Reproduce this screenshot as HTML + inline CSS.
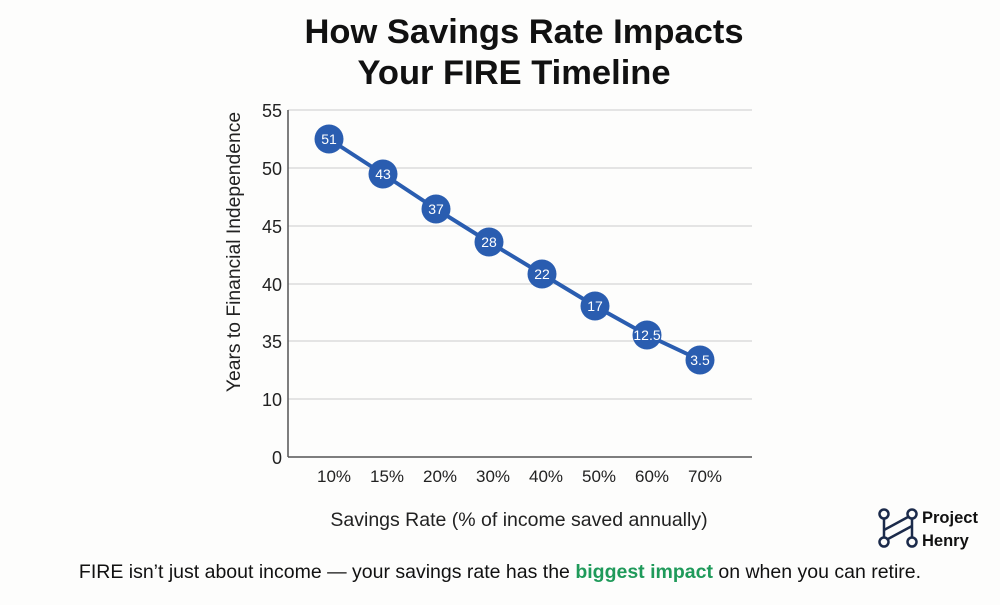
<!DOCTYPE html>
<html><head><style>
body{margin:0;width:1000px;height:600px;background:#fdfdfc;font-family:"Liberation Sans",sans-serif;overflow:hidden}
</style></head><body>
<svg width="1000" height="600" viewBox="0 0 1000 600" xmlns="http://www.w3.org/2000/svg" font-family="Liberation Sans, sans-serif">
<text x="524" y="43" text-anchor="middle" font-size="34.5" font-weight="bold" fill="#111">How Savings Rate Impacts</text>
<text x="514" y="84" text-anchor="middle" font-size="34.5" font-weight="bold" fill="#111">Your FIRE Timeline</text>
<g stroke="#dcdcdc" stroke-width="1.5">
<line x1="288" y1="110" x2="752" y2="110"/><line x1="288" y1="168" x2="752" y2="168"/>
<line x1="288" y1="226" x2="752" y2="226"/><line x1="288" y1="284" x2="752" y2="284"/>
<line x1="288" y1="341" x2="752" y2="341"/><line x1="288" y1="399" x2="752" y2="399"/>
</g>
<line x1="288" y1="110" x2="288" y2="457" stroke="#555" stroke-width="1.5"/>
<line x1="288" y1="457" x2="752" y2="457" stroke="#555" stroke-width="1.5"/>
<g font-size="18" fill="#222" text-anchor="end">
<text x="282" y="117">55</text><text x="282" y="175">50</text><text x="282" y="233">45</text>
<text x="282" y="291">40</text><text x="282" y="348">35</text><text x="282" y="406">10</text><text x="282" y="464">0</text>
</g>
<g font-size="17" fill="#222" text-anchor="middle">
<text x="334" y="482">10%</text><text x="387" y="482">15%</text><text x="440" y="482">20%</text><text x="493" y="482">30%</text>
<text x="546" y="482">40%</text><text x="599" y="482">50%</text><text x="652" y="482">60%</text><text x="705" y="482">70%</text>
</g>
<text transform="translate(240,252) rotate(-90)" text-anchor="middle" font-size="19.3" fill="#222">Years to Financial Independence</text>
<text x="519" y="526" text-anchor="middle" font-size="19.5" fill="#222">Savings Rate (% of income saved annually)</text>
<polyline points="329,139 383,174 436,209 489,242 542,274 595,306 647,335 700,360" fill="none" stroke="#2a5db0" stroke-width="4"/>
<g fill="#2a5db0"><circle cx="329" cy="139" r="14.5"/><circle cx="383" cy="174" r="14.5"/><circle cx="436" cy="209" r="14.5"/><circle cx="489" cy="242" r="14.5"/><circle cx="542" cy="274" r="14.5"/><circle cx="595" cy="306" r="14.5"/><circle cx="647" cy="335" r="14.5"/><circle cx="700" cy="360" r="14.5"/></g>
<g font-size="14" fill="#fff" text-anchor="middle">
<text x="329" y="144">51</text><text x="383" y="179">43</text><text x="436" y="214">37</text><text x="489" y="247">28</text>
<text x="542" y="279">22</text><text x="595" y="311">17</text><text x="647" y="340">12.5</text><text x="700" y="365">3.5</text>
</g>
<g stroke="#1b2a4a" stroke-width="2.5" fill="none">
<circle cx="884" cy="514" r="4.5"/><circle cx="912" cy="514" r="4.5"/><circle cx="884" cy="542" r="4.5"/><circle cx="912" cy="542" r="4.5"/>
<line x1="884" y1="519" x2="884" y2="537"/><line x1="912" y1="519" x2="912" y2="537"/>
<line x1="884" y1="530" x2="908" y2="517"/><line x1="888" y1="539" x2="912" y2="526"/>
</g>
<text x="922" y="523" font-size="16.5" font-weight="bold" fill="#111">Project</text>
<text x="922" y="546" font-size="16.5" font-weight="bold" fill="#111">Henry</text>
<text x="500" y="578" text-anchor="middle" font-size="19.5" fill="#111">FIRE isn’t just about income — your savings rate has the <tspan fill="#1f9a5a" font-weight="bold">biggest impact</tspan> on when you can retire.</text>
</svg>
</body></html>
